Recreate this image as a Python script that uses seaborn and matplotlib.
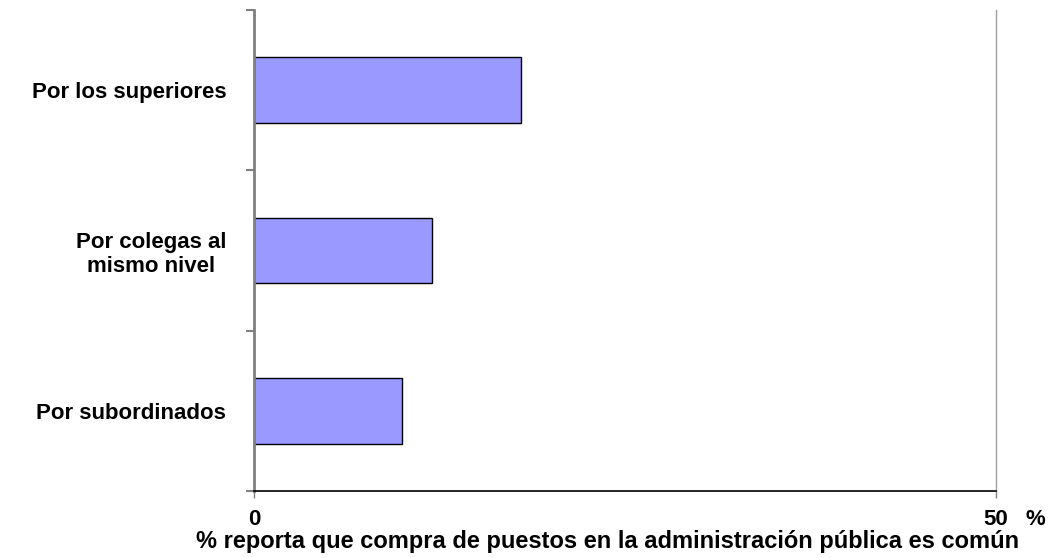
import pandas as pd
import matplotlib.pyplot as plt
import seaborn as sns
from matplotlib.ticker import FixedLocator

# Datos
categorias = ["Por los superiores", "Por colegas al\nmismo nivel", "Por subordinados"]
porcentajes = [18, 12, 10]

df = pd.DataFrame({"Categoria": categorias, "Porcentaje": porcentajes})

sns.set_style("white")
plt.rcParams["font.family"] = ["Liberation Sans", "DejaVu Sans"]
plt.rcParams["font.weight"] = "bold"
plt.rcParams["text.color"] = "black"
plt.rcParams["axes.labelcolor"] = "black"
plt.rcParams["xtick.color"] = "black"
plt.rcParams["ytick.color"] = "black"

fig = plt.figure(figsize=(10.52, 5.58), dpi=100)
ax = fig.add_axes([254 / 1052, 1 - 491 / 558, 742 / 1052, 481 / 558])

sns.barplot(data=df, x="Porcentaje", y="Categoria", orient="h", color="#9999FF",
            saturation=1, width=0.41, edgecolor="black", linewidth=1, ax=ax)

ax.set_xlim(0, 50)
ax.set_ylim(2.5, -0.5)
ax.set_xticks([0, 50])
ax.set_xticklabels(["0", "50"])
ax.tick_params(axis="x", bottom=True, direction="out", length=5, width=1,
               color="#808080", labelcolor="black", labelsize=16, pad=8)

# marcas del eje y entre categorías
ax.yaxis.set_minor_locator(FixedLocator([-0.5, 0.5, 1.5, 2.5]))
ax.tick_params(axis="y", which="major", left=True, length=0, pad=20,
               labelcolor="black", labelsize=16)
ax.tick_params(axis="y", which="minor", left=True, direction="out", length=6,
               width=1.5, color="#808080")
for lbl in ax.get_yticklabels():
    lbl.set_fontweight("bold")
    lbl.set_multialignment("center")
for lbl in ax.get_xticklabels():
    lbl.set_fontweight("bold")

ax.spines["top"].set_visible(False)
ax.spines["left"].set_color("#808080")
ax.spines["left"].set_linewidth(2)
ax.spines["right"].set_color("#A0A0A0")
ax.spines["right"].set_linewidth(1)
ax.spines["bottom"].set_color("black")
ax.spines["bottom"].set_linewidth(1.2)

ax.set_ylabel("")
ax.set_xlabel("% reporta que compra de puestos en la administración pública es común",
              fontsize=17, fontweight="bold", va="baseline", color="black")
ax.xaxis.set_label_coords(0.477, -0.119)
ax.text(1.0526, -0.06, "%", transform=ax.transAxes, fontsize=16, fontweight="bold",
        ha="center", va="center")

fig.savefig("out.png", dpi=100)
